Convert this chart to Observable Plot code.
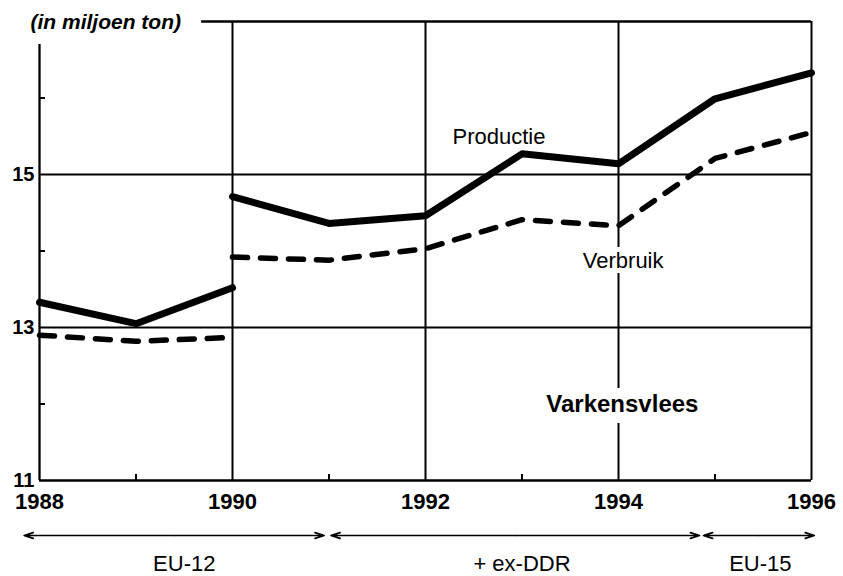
<!DOCTYPE html>
<html>
<head>
<meta charset="utf-8">
<script src="https://cdn.jsdelivr.net/npm/d3@7"></script>
<script src="https://cdn.jsdelivr.net/npm/@observablehq/plot@0.6"></script>
<style>
  html, body { margin: 0; padding: 0; background: #fff; }
  #chart { width: 843px; height: 576px; }
</style>
</head>
<body>
<div id="chart"></div>
<script>
// ---- data ----
const yearsA = [1988, 1989, 1990];                 // EU-12 series
const productieA = [13.33, 13.05, 13.52];
const verbruikA  = [12.90, 12.82, 12.87];

const yearsB = [1990, 1991, 1992, 1993, 1994, 1995, 1996]; // incl. ex-DDR / EU-15
const productieB = [14.71, 14.36, 14.46, 15.27, 15.14, 15.99, 16.33];
const verbruikB  = [13.92, 13.88, 14.03, 14.41, 14.33, 15.21, 15.55];

const xTicks = [1988, 1990, 1992, 1994, 1996];
const xMinorTicks = [1989, 1991, 1993, 1995];
const yTicks = [11, 13, 15];
const yMinorTicks = [12, 14, 16];
const gridY = [13, 15];
const gridX = [1990, 1992, 1994, 1996];

const periodNames = ["EU-12", "+ ex-DDR", "EU-15"];
const periodFrom  = [1987.84, 1991.02, 1994.88];
const periodTo    = [1990.95, 1994.84, 1996.03];
const periodLabelYear = [1989.5, 1993.0, 1995.47];

const unitLabel = "(in miljoen ton)";
const titleLabel = "Varkensvlees";
const seriesNames = ["Productie", "Verbruik"];
const seriesLabelYear = [1992.28, 1993.63];
const seriesLabelValue = [15.40, 13.78];

// ---- build tables ----
const lineRows = [];
yearsA.forEach((yr, i) => {
  lineRows.push({year: yr, value: productieA[i], series: "Productie", seg: "P-A"});
  lineRows.push({year: yr, value: verbruikA[i], series: "Verbruik", seg: "V-A"});
});
yearsB.forEach((yr, i) => {
  lineRows.push({year: yr, value: productieB[i], series: "Productie", seg: "P-B"});
  lineRows.push({year: yr, value: verbruikB[i], series: "Verbruik", seg: "V-B"});
});
const prodRows = lineRows.filter(d => d.series === "Productie");
const consRows = lineRows.filter(d => d.series === "Verbruik");

const periods = periodNames.map((name, i) => ({
  name, from: periodFrom[i], to: periodTo[i],
  mid: (periodFrom[i] + periodTo[i]) / 2, label: periodLabelYear[i]
}));
const seriesLabels = seriesNames.map((name, i) => ({name, year: seriesLabelYear[i], value: seriesLabelValue[i]}));

const font = "'Liberation Sans', Arial, Helvetica, sans-serif";
const sw = 2;

const chart = Plot.plot({
  width: 843,
  height: 576,
  marginLeft: 39,
  marginRight: 32,
  marginTop: 21,
  marginBottom: 96,
  x: {domain: [1988, 1996]},
  y: {domain: [11, 17]},
  style: {fontFamily: font, background: "#fff", color: "#000", overflow: "visible"},
  marks: [
    // grid
    Plot.ruleY(gridY, {stroke: "#000", strokeWidth: sw}),
    Plot.ruleX(gridX, {y1: 11, y2: 17, stroke: "#000", strokeWidth: sw}),
    // frame parts
    Plot.ruleX([1988], {y1: 11, y2: 16.7, stroke: "#000", strokeWidth: sw + 0.3}),
    Plot.ruleY([11], {stroke: "#000", strokeWidth: sw + 0.3}),
    Plot.ruleY([17], {x1: 1989.68, x2: 1996, stroke: "#000", strokeWidth: sw + 0.3}),
    // minor ticks
    Plot.axisY(yMinorTicks, {anchor: "left", tickSize: -6, tickFormat: () => "", label: null, strokeWidth: sw}),
    Plot.axisX(xMinorTicks, {anchor: "bottom", tickSize: -6, tickFormat: () => "", label: null, strokeWidth: sw}),
    // tick labels
    Plot.axisY(yTicks, {anchor: "left", tickSize: 0, tickPadding: 5, fontSize: 20, fontWeight: "bold", label: null, tickFormat: d => String(d)}),
    Plot.axisX(xTicks, {anchor: "bottom", tickSize: 0, tickPadding: 13, fontSize: 22, fontWeight: "bold", label: null, tickFormat: d => String(d)}),
    // lines
    Plot.line(prodRows, {x: "year", y: "value", z: "seg", stroke: "#000", strokeWidth: 7, strokeLinejoin: "round", strokeLinecap: "round"}),
    Plot.line(consRows, {x: "year", y: "value", z: "seg", stroke: "#000", strokeWidth: 5.5, strokeDasharray: "15,13", strokeLinecap: "round", strokeLinejoin: "round"}),
    // labels
    Plot.text(seriesLabels, {x: "year", y: "value", text: "name", textAnchor: "start", lineAnchor: "bottom", fontSize: 22, fill: "#000", stroke: "#fff", strokeWidth: 10}),
    Plot.text([titleLabel], {x: [1994.04], y: [12], text: d => d, fontSize: 24, fontWeight: "bold", fill: "#000", stroke: "#fff", strokeWidth: 22}),
    Plot.text([unitLabel], {frameAnchor: "top-left", text: d => d, textAnchor: "start", lineAnchor: "middle", dx: -9, dy: 1, fontSize: 21, fontWeight: "bold", fontStyle: "italic", fill: "#000"}),
    // periods
    Plot.arrow(periods, {x1: "mid", x2: "to", y1: 11, y2: 11, dy: 55, stroke: "#000", strokeWidth: 1.6, headLength: 9, headAngle: 35}),
    Plot.arrow(periods, {x1: "mid", x2: "from", y1: 11, y2: 11, dy: 55, stroke: "#000", strokeWidth: 1.6, headLength: 9, headAngle: 35}),
    Plot.text(periods, {x: "label", y: 11, dy: 90, text: "name", lineAnchor: "bottom", fontSize: 22, fill: "#000"})
  ]
});
document.getElementById("chart").appendChild(chart);
</script>
</body>
</html>
